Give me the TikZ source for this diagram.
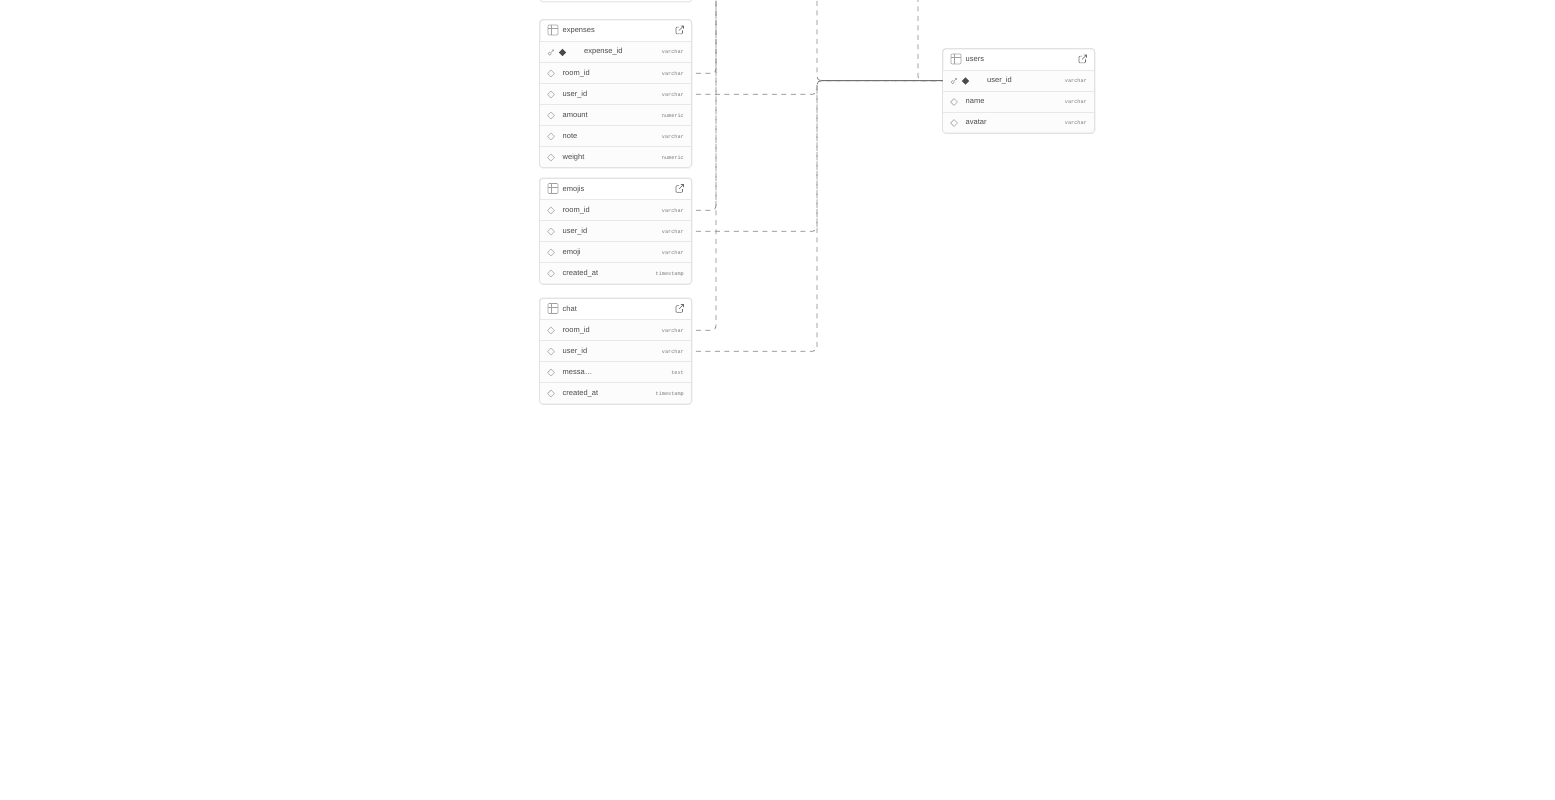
\documentclass[tikz,border=0pt]{standalone}
\usepackage{fontspec}
\setmainfont{Liberation Sans}
\setmonofont{Liberation Mono}
\definecolor{cardline}{HTML}{E2E2E2}
\definecolor{sepline}{HTML}{E8E8E8}
\definecolor{rowfill}{HTML}{FCFCFC}
\definecolor{labelc}{HTML}{4A4A4A}
\definecolor{linkc}{HTML}{6A6A6A}
\definecolor{typec}{HTML}{7A7A7A}
\definecolor{iconc}{HTML}{A0A0A0}
\definecolor{edgec}{HTML}{858585}
\tikzset{
  cardbox/.style={draw=cardline,line width=0.8pt,fill=white,rounded corners=3pt,inner sep=0pt,minimum width=152pt,anchor=north west},
  cardedge/.style={draw=cardline,line width=0.8pt,rounded corners=3pt},
  rowbox/.style={fill=rowfill,inner sep=0pt,minimum width=152pt,minimum height=21pt,anchor=north west},
  seprule/.style={draw=sepline,line width=0.8pt},
  lab/.style={anchor=base west,inner sep=0pt,text=labelc,font=\fontsize{7.5}{9}\selectfont},
  typ/.style={anchor=base east,inner sep=0pt,text=typec,font=\ttfamily\fontsize{5.2}{6}\selectfont},
  conn/.style={draw=edgec,line width=0.75pt,dash pattern=on 5pt off 4.5pt,rounded corners=4pt,shorten <=4pt},
  connsolid/.style={draw=edgec!85!black,line width=0.75pt,shorten <=3.5pt},
  pics/tblicon/.style={code={
    \draw[iconc,line width=0.6pt,rounded corners=1pt] (-5,-5) rectangle (5,5);
    \draw[iconc,line width=0.5pt] (-5,-1.7) -- (5,-1.7) (-1.7,-5) -- (-1.7,5);}},
  pics/linkicon/.style={code={
    \draw[linkc,line width=0.55pt,rounded corners=0.8pt] (-0.5,-2.8) -- (-3.5,-2.8) -- (-3.5,3.8) -- (3,3.8) -- (3,0.5);
    \draw[linkc,line width=0.55pt] (-0.5,0.5) -- (4,-4) (1.3,-4) -- (4,-4) -- (4,-1.3);}},
  pics/keyicon/.style={code={
    \draw[iconc,line width=0.5pt] (-1.3,1.2) circle (1.6);
    \draw[iconc,line width=0.5pt] (0,0) -- (2.6,-2.6) (1.2,-2.6) -- (2.6,-2.6) -- (2.6,-1.2);}},
  pics/opendia/.style={code={
    \draw[iconc!85,line width=0.55pt,line join=round] (-3.4,0) -- (0,-3.4) -- (3.4,0) -- (0,3.4) -- cycle;}},
  pics/soliddia/.style={code={
    \fill[labelc] (-3.6,0) -- (0,-3.6) -- (3.6,0) -- (0,3.6) -- cycle;}},
}
% card: name, x, top, height, title
\newcommand\dbcard[5]{%
  \node[cardbox,minimum height=#4pt] (#1) at (#2,#3) {};
  \pic at ($(#2,#3)+(13.5,10.5)$) {tblicon};
  \pic at ($(#2,#3)+(140,10.5)$) {linkicon};
  \path (#2,#3) ++(23,13) node[lab] (#1-title) {#5};
}
% row: name, x, top, label, type
\newcommand\dbrow[5]{%
  \node[rowbox] (#1) at (#2,#3) {};
  \draw[seprule] (#1.north west) -- (#1.north east);
  \pic at ($(#2,#3)+(11.5,11)$) {opendia};
  \path (#2,#3) ++(23,12.8) node[lab] (#1-lab) {#4};
  \path (#2,#3) ++(144.5,12.5) node[typ] (#1-typ) {#5};
}
\newcommand\dbkey[5]{%
  \node[rowbox] (#1) at (#2,#3) {};
  \draw[seprule] (#1.north west) -- (#1.north east);
  \pic at ($(#2,#3)+(11.5,11)$) {keyicon};
  \pic at ($(#2,#3)+(23,11)$) {soliddia};
  \path (#2,#3) ++(44.5,12.3) node[lab] (#1-lab) {#4};
  \path (#2,#3) ++(144.5,12.5) node[typ] (#1-typ) {#5};
}
\usetikzlibrary{calc}
\begin{document}
\begin{tikzpicture}[x=1pt,y=-1pt]
\useasboundingbox (0,0) rectangle (1555,800);
\clip (0,0) rectangle (1555,800);
\fill[white] (0,0) rectangle (1555,800);

% connector rails leaving the picture at the top
\coordinate (railA) at (716,-3);
\coordinate (railB) at (817,-8.5);
\coordinate (railC) at (918,-3);

% table cut by the top edge
\node[cardbox,minimum height=20pt] (topcard) at (539.5,-18.5) {};

% expenses
\dbcard{expenses}{539.5}{19.5}{148}{expenses}
\dbkey{expenses-id}{539.5}{41.5}{expense\_id}{varchar}
\dbrow{expenses-room}{539.5}{62.5}{room\_id}{varchar}
\dbrow{expenses-user}{539.5}{83.5}{user\_id}{varchar}
\dbrow{expenses-amount}{539.5}{104.5}{amount}{numeric}
\dbrow{expenses-note}{539.5}{125.5}{note}{varchar}
\dbrow{expenses-weight}{539.5}{146.5}{weight}{numeric}
\draw[cardedge] (539.5,19.5) rectangle (691.5,167.5);

% emojis
\dbcard{emojis}{539.5}{178}{106}{emojis}
\dbrow{emojis-room}{539.5}{199.5}{room\_id}{varchar}
\dbrow{emojis-user}{539.5}{220.5}{user\_id}{varchar}
\dbrow{emojis-emoji}{539.5}{241.5}{emoji}{varchar}
\dbrow{emojis-created}{539.5}{262.5}{created\_at}{timestamp}
\draw[cardedge] (539.5,178) rectangle (691.5,284);

% chat
\dbcard{chat}{539.5}{298}{106}{chat}
\dbrow{chat-room}{539.5}{319.5}{room\_id}{varchar}
\dbrow{chat-user}{539.5}{340.5}{user\_id}{varchar}
\dbrow{chat-message}{539.5}{361.5}{messa…}{text}
\dbrow{chat-created}{539.5}{382.5}{created\_at}{timestamp}
\draw[cardedge] (539.5,298) rectangle (691.5,404);

% users
\dbcard{users}{942.5}{48.5}{84.5}{users}
\dbkey{users-id}{942.5}{70}{user\_id}{varchar}
\dbrow{users-name}{942.5}{91}{name}{varchar}
\dbrow{users-avatar}{942.5}{112}{avatar}{varchar}
\draw[cardedge] (942.5,48.5) rectangle (1094.5,133);

% connectors to the left rail
\draw[conn] (expenses-room.east) -| (railA);
\draw[conn] (emojis-room.east) -| (railA);
\draw[conn] (chat-room.east) -| (railA);

% connectors to users.user_id
\draw[conn] (expenses-user.east) -| (railB |- users-id.west) -- (users-id.west);
\draw[conn] (emojis-user.east) -| (railB |- users-id.west) -- (users-id.west);
\draw[conn] (chat-user.east) -| (railB |- users-id.west) -- (users-id.west);
\draw[conn,shorten <=0pt] (railB) |- (users-id.west);
\draw[conn,shorten <=0pt] (railC) |- (users-id.west);
\draw[connsolid] (railB |- users-id.west) -- (users-id.west);
\end{tikzpicture}
\end{document}
